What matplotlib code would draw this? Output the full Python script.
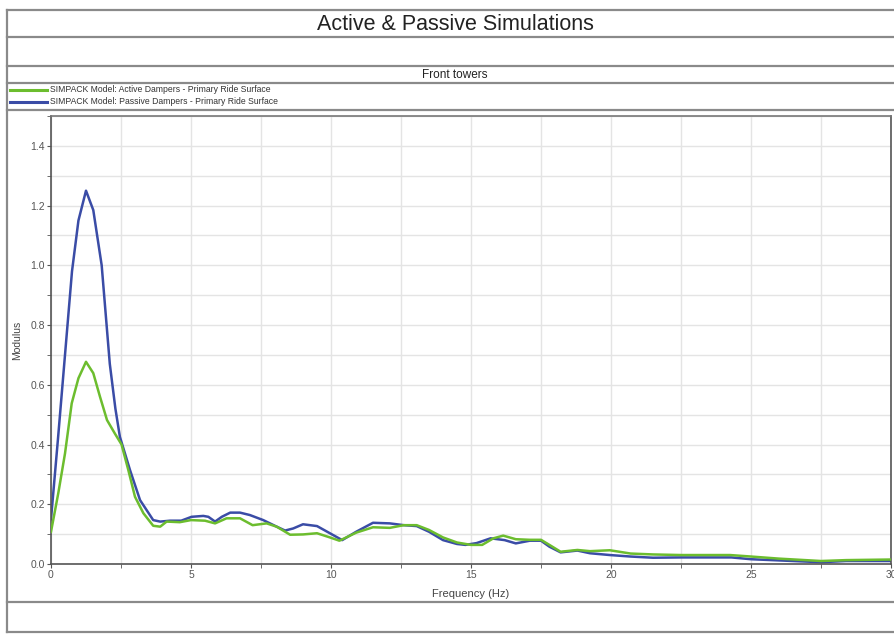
import matplotlib
matplotlib.use('Agg')
import matplotlib.pyplot as plt
from matplotlib.lines import Line2D
from matplotlib.ticker import MultipleLocator

plt.rcParams['font.family'] = ['Liberation Sans', 'DejaVu Sans']

title = 'Active & Passive Simulations'
subtitle = 'Front towers'
active_label = 'SIMPACK Model: Active Dampers - Primary Ride Surface'
passive_label = 'SIMPACK Model: Passive Dampers - Primary Ride Surface'

# passive dampers (blue)
passive_freq = [0, 0.25, 0.5, 0.75, 0.98, 1.25, 1.51, 1.81, 2.1, 2.3, 2.46, 2.82,
                3.18, 3.65, 3.9, 4.25, 4.65, 5.02, 5.44, 5.62, 5.86, 6.1, 6.4, 6.75,
                7.1, 7.58, 8.06, 8.36, 8.65, 9.0, 9.5, 9.96, 10.4, 10.9, 11.5, 12.1,
                12.6, 13.06, 13.5, 14.0, 14.5, 14.8, 15.2, 15.7, 16.2, 16.6, 17.1,
                17.5, 17.8, 18.2, 18.8, 19.25, 19.96, 20.7, 21.5, 22.5, 23.65, 24.3,
                25.0, 26.0, 27.5, 28.4, 30.0]
passive_mod = [0.15, 0.42, 0.70, 0.98, 1.15, 1.25, 1.185, 1.0, 0.67, 0.52, 0.426, 0.315,
               0.214, 0.147, 0.142, 0.145, 0.145, 0.158, 0.161, 0.158, 0.142, 0.158, 0.172, 0.172,
               0.164, 0.147, 0.125, 0.112, 0.119, 0.133, 0.127, 0.103, 0.08, 0.108, 0.138, 0.136,
               0.13, 0.127, 0.108, 0.08, 0.067, 0.064, 0.07, 0.086, 0.08, 0.069, 0.078,
               0.078, 0.058, 0.039, 0.045, 0.036, 0.03, 0.025, 0.021, 0.022, 0.022, 0.022,
               0.016, 0.012, 0.006, 0.01, 0.01]

# active dampers (green)
active_freq = [0, 0.26, 0.5, 0.74, 0.98, 1.25, 1.51, 1.75, 2.0, 2.28, 2.52, 2.76, 3.0,
               3.3, 3.65, 3.9, 4.13, 4.6, 5.0, 5.5, 5.86, 6.27, 6.75, 7.2, 7.7, 8.06,
               8.54, 9.0, 9.5, 9.96, 10.3, 10.9, 11.5, 12.1, 12.6, 13.06, 13.5, 14.0,
               14.5, 15.0, 15.4, 15.8, 16.15, 16.6, 17.1, 17.5, 17.8, 18.2, 18.8, 19.25,
               19.96, 20.7, 21.5, 22.5, 24.25, 25.0, 26.0, 27.5, 28.4, 30.0]
active_mod = [0.108, 0.237, 0.37, 0.538, 0.622, 0.677, 0.639, 0.56, 0.482, 0.437, 0.40, 0.315, 0.225,
              0.17, 0.128, 0.125, 0.142, 0.14, 0.147, 0.145, 0.136, 0.153, 0.153, 0.13, 0.136, 0.125,
              0.098, 0.099, 0.103, 0.089, 0.078, 0.105, 0.123, 0.121, 0.13, 0.13, 0.114, 0.089,
              0.072, 0.064, 0.064, 0.086, 0.095, 0.083, 0.081, 0.081, 0.064, 0.041, 0.047, 0.043,
              0.046, 0.035, 0.032, 0.030, 0.03, 0.025, 0.018, 0.01, 0.013, 0.015]

W, H = 895, 634
fig = plt.figure(figsize=(W / 100, H / 100), dpi=100)


def fx(px):
  return px / W


def fy(py):
  return 1 - py / H


def hline(py, x0=7, x1=910, color='#8a8a8a', lw=1.6):
  fig.add_artist(Line2D([fx(x0), fx(x1)], [fy(py), fy(py)], transform=fig.transFigure,
                        color=color, lw=lw))


# panel frame
fig.add_artist(Line2D([fx(7), fx(7)], [fy(10), fy(632)], transform=fig.transFigure,
                      color='#8a8a8a', lw=1.6))
for py in [10, 37, 66, 83, 110, 602, 632]:
  hline(py)

fig.text(fx(455), fy(24), title, ha='center', va='center', fontsize=15.5, color='#222222')
fig.text(fx(455), fy(75), subtitle, ha='center', va='center', fontsize=8.5, color='#222222')

green = '#6cbd2e'
blue = '#3a4ca6'
fig.add_artist(Line2D([fx(10), fx(47)], [fy(90), fy(90)], transform=fig.transFigure, color=green, lw=2.2))
fig.add_artist(Line2D([fx(10), fx(47)], [fy(101.5), fy(101.5)], transform=fig.transFigure, color=blue, lw=2.2))
fig.text(fx(50), fy(90), active_label, ha='left', va='center', fontsize=6.2, color='#333333')
fig.text(fx(50), fy(101.5), passive_label, ha='left', va='center', fontsize=6.2, color='#333333')

ax = fig.add_axes([fx(51), 1 - 564 / H, 840 / W, 448 / H])
ax.plot(active_freq, active_mod, color=green, lw=1.8, zorder=3)
ax.plot(passive_freq, passive_mod, color=blue, lw=1.8, zorder=2)

ax.set_xlim(0, 30)
ax.set_ylim(0, 1.5)
ax.xaxis.set_major_locator(MultipleLocator(5))
ax.xaxis.set_minor_locator(MultipleLocator(2.5))
ax.yaxis.set_major_locator(MultipleLocator(0.2))
ax.yaxis.set_minor_locator(MultipleLocator(0.1))
ax.yaxis.set_major_formatter(matplotlib.ticker.FormatStrFormatter('%.1f'))
ax.grid(True, which='both', color='#e4e4e4', lw=1.0, zorder=0)
ax.set_axisbelow(True)
ax.tick_params(which='both', labelsize=7.5, labelcolor='#555555', color='#555555',
               direction='out', length=3, pad=1.5)
for s in ax.spines.values():
  s.set_color('#555555')
  s.set_linewidth(1.2)
ax.spines['top'].set_color('#777777')

ax.set_xlabel('Frequency (Hz)', fontsize=8, color='#444444', labelpad=6)
ax.set_ylabel('Modulus', fontsize=7.5, color='#444444', labelpad=6)

fig.savefig('out.png', dpi=100)
